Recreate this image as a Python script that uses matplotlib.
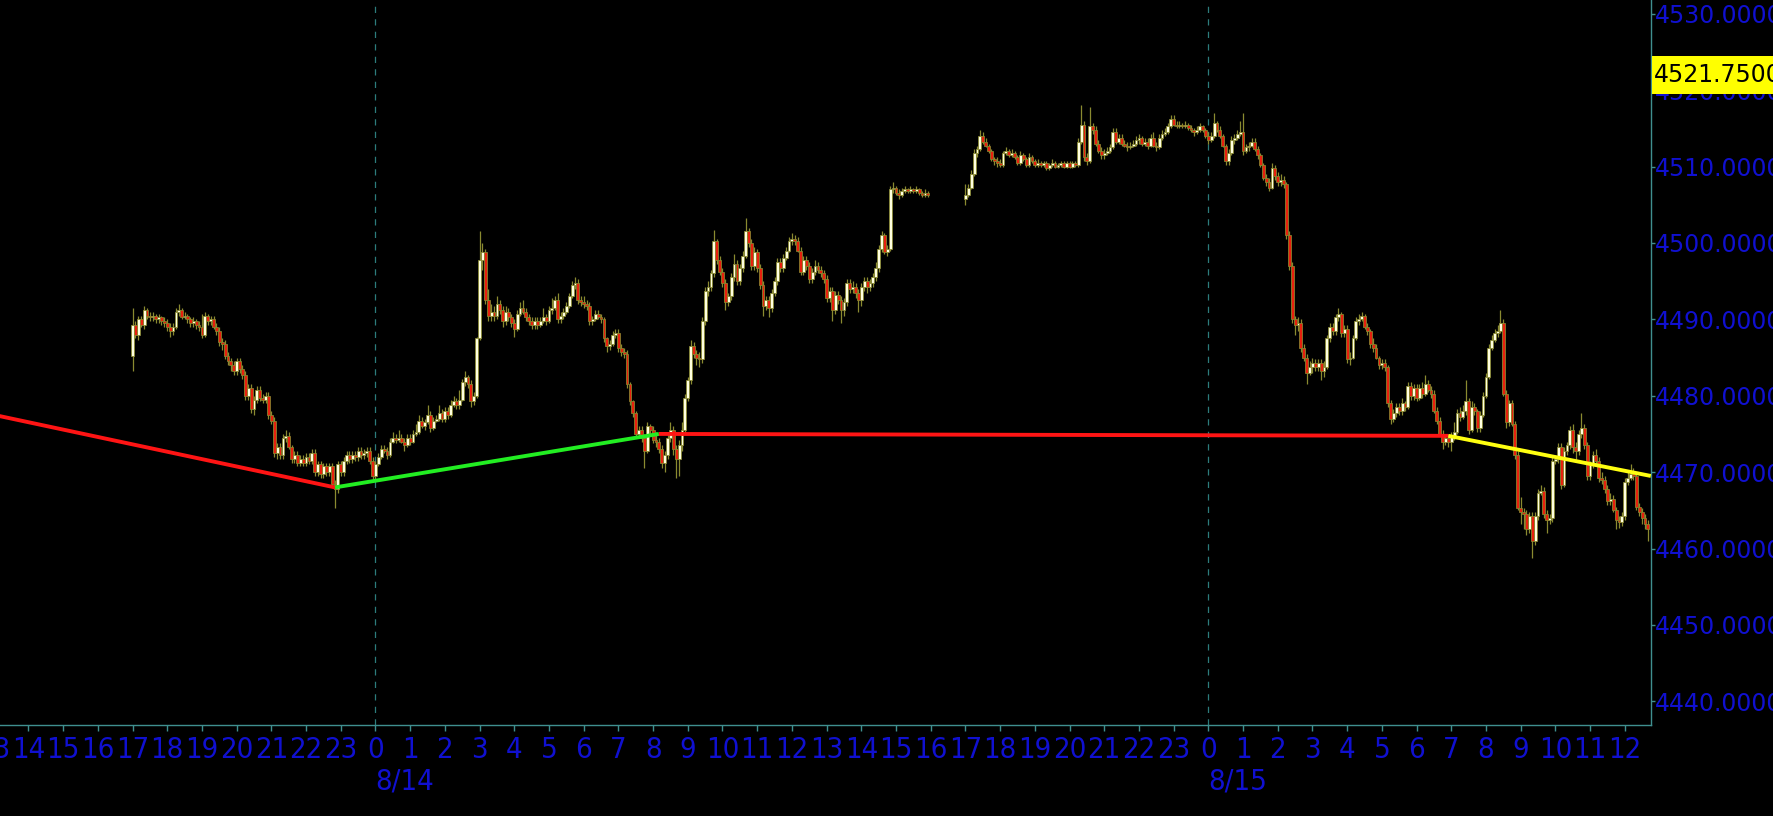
import numpy as np
import pandas as pd
import matplotlib
matplotlib.use("Agg")
import matplotlib.pyplot as plt
import matplotlib.dates as mdates
from matplotlib import font_manager
from matplotlib.patches import Rectangle
from matplotlib.transforms import blended_transform_factory

# 5-minute ES bars, two sessions (daily halt 16:00-17:00)
session1 = ("2023-08-13 17:00", "2023-08-14 15:55")
session2 = ("2023-08-14 17:00", "2023-08-15 12:40")

opens = [
    # 8/13 17h
    4485.25, 4489.25, 4488.0, 4490.0, 4489.25, 4491.25, 4490.5, 4490.25, 4490.5, 4490.0, 4490.25, 4489.75,
    4489.5, 4489.0, 4488.5, 4489.0, 4491.0, 4491.25, 4490.25, 4490.5, 4490.0, 4489.5, 4489.75, 4489.25,
    4489.0, 4488.0, 4490.5, 4489.75, 4490.0, 4489.0, 4488.5, 4487.0, 4486.75, 4485.25, 4484.5, 4484.0,
    4483.25, 4484.5, 4483.5, 4482.75, 4480.0, 4481.0, 4478.25, 4479.5, 4480.75, 4479.75, 4479.5, 4480.0,
    4477.5, 4476.75, 4472.5, 4473.25, 4472.25, 4474.5, 4474.75, 4473.25, 4471.75, 4472.25, 4471.25, 4471.75,
    4471.25, 4472.0, 4471.5, 4472.5, 4470.0, 4471.0, 4469.75, 4470.75, 4470.0, 4470.75, 4468.5, 4467.75,
    4471.0, 4470.0, 4471.5, 4472.25, 4471.75, 4472.25, 4472.0, 4472.75, 4472.25, 4472.5, 4472.75, 4471.5,
    # 8/14 0h
    4469.5, 4471.0, 4472.0, 4473.0, 4472.75, 4472.25, 4474.0, 4474.5, 4474.25, 4474.5, 4474.0, 4473.5,
    4474.5, 4474.0, 4475.0, 4475.25, 4476.75, 4476.0, 4476.5, 4477.5, 4475.75, 4476.75, 4477.0, 4477.75,
    4477.0, 4478.0, 4477.5, 4478.75, 4479.25, 4478.75, 4479.5, 4481.75, 4482.5, 4481.5, 4479.25, 4480.0,
    4487.5, 4497.75, 4498.75, 4492.5, 4490.5, 4491.0, 4490.5, 4492.0, 4491.25, 4489.75, 4491.0, 4490.25,
    4489.5, 4488.75, 4490.75, 4491.5, 4491.0, 4490.25, 4489.75, 4489.25, 4489.75, 4489.25, 4489.75, 4490.25,
    4489.75, 4491.25, 4491.5, 4492.5, 4490.0, 4490.5, 4491.0, 4491.75, 4493.0, 4494.5, 4494.75, 4492.5,
    4492.25, 4492.0, 4491.75, 4489.75, 4490.0, 4490.75, 4490.25, 4490.0, 4487.5, 4486.5, 4486.75, 4488.0,
    4488.25, 4486.25, 4485.75, 4485.5, 4481.5, 4479.25, 4477.75, 4475.0, 4475.5, 4474.5, 4472.75, 4476.0,
    4475.5, 4474.25, 4474.0, 4473.0, 4471.25, 4472.25, 4474.5, 4475.5, 4473.0, 4471.75, 4473.5, 4475.5,
    4479.75, 4482.0, 4486.5, 4485.5, 4485.0, 4484.75, 4489.75, 4493.75, 4494.25, 4496.0, 4500.25, 4497.75,
    4496.25, 4494.75, 4492.25, 4493.0, 4495.5, 4497.25, 4495.0, 4496.75, 4498.25, 4501.5, 4500.0, 4497.0,
    4498.75, 4496.75, 4494.5, 4491.75, 4492.5, 4491.5, 4493.5, 4495.0, 4497.5, 4496.75, 4498.0, 4499.0,
    4500.25, 4500.5, 4500.25, 4499.0, 4496.25, 4497.75, 4497.0, 4495.25, 4496.25, 4497.0, 4496.5, 4496.0,
    4495.25, 4492.75, 4493.75, 4491.25, 4493.25, 4492.5, 4491.25, 4492.25, 4494.75, 4494.0, 4494.25, 4493.5,
    4492.5, 4494.25, 4495.0, 4494.25, 4494.75, 4495.5, 4496.75, 4499.25, 4501.0, 4498.75, 4499.25, 4507.0,
    4507.25, 4506.5, 4506.25, 4506.75, 4507.0, 4506.75, 4507.0, 4506.75, 4507.0, 4506.5, 4506.25, 4506.5,
    # 8/14 17h
    4505.75, 4506.25, 4507.25, 4509.0, 4511.75, 4512.25, 4514.0, 4513.25, 4512.75, 4512.0, 4511.0, 4510.75,
    4510.5, 4510.25, 4511.75, 4512.0, 4511.5, 4511.75, 4511.25, 4510.5, 4511.5, 4511.0, 4510.25, 4511.25,
    4510.75, 4510.25, 4510.5, 4510.25, 4510.5, 4509.75, 4510.25, 4510.5, 4510.0, 4510.25, 4510.5, 4510.0,
    4510.5, 4510.0, 4510.5, 4510.25, 4513.25, 4515.5, 4511.25, 4510.75, 4515.25, 4514.75, 4513.0, 4512.0,
    4511.5, 4511.75, 4512.0, 4512.5, 4514.5, 4513.25, 4513.75, 4513.0, 4512.75, 4512.5, 4512.75, 4513.0,
    4513.5, 4513.75, 4513.0, 4513.25, 4512.75, 4513.75, 4512.75, 4512.5, 4513.75, 4514.25, 4514.5, 4515.25,
    4516.25, 4515.5, 4515.25, 4515.5, 4515.25, 4515.5, 4515.0, 4514.75, 4514.5, 4514.75, 4515.25, 4514.75,
    # 8/15 0h
    4514.0, 4513.5, 4514.0, 4515.75, 4514.75, 4514.0, 4512.75, 4510.75, 4511.75, 4513.5, 4513.75, 4514.25,
    4514.5, 4512.0, 4512.5, 4512.75, 4513.25, 4512.25, 4511.5, 4510.25, 4508.5, 4508.0, 4507.25, 4509.75,
    4508.75, 4508.0, 4508.25, 4507.75, 4501.0, 4497.0, 4490.0, 4489.25, 4489.5, 4486.25, 4485.0, 4483.0,
    4483.75, 4484.25, 4483.75, 4484.25, 4483.25, 4483.75, 4487.5, 4489.0, 4488.5, 4490.25, 4490.75, 4488.25,
    4488.75, 4484.75, 4485.0, 4487.5, 4489.75, 4490.0, 4490.5, 4489.0, 4488.5, 4486.75, 4486.25, 4485.0,
    4484.0, 4484.25, 4483.75, 4479.0, 4477.0, 4477.75, 4478.5, 4478.0, 4479.0, 4478.5, 4481.25, 4480.0,
    4481.0, 4479.75, 4481.0, 4480.25, 4481.5, 4480.75, 4480.25, 4478.0, 4476.75, 4475.0, 4474.0, 4474.5,
    4474.0, 4474.75, 4475.25, 4477.75, 4477.25, 4478.0, 4479.25, 4475.5, 4478.5, 4478.0, 4475.75, 4477.5,
    4480.0, 4482.5, 4486.25, 4487.25, 4488.25, 4488.5, 4489.5, 4480.25, 4476.5, 4479.0, 4476.25, 4472.25,
    4465.25, 4464.75, 4464.5, 4462.5, 4464.25, 4461.0, 4464.25, 4467.25, 4467.5, 4464.5, 4463.75, 4464.0,
    4471.5, 4471.75, 4473.25, 4468.25, 4472.75, 4473.5, 4475.5, 4473.25, 4472.75, 4475.0, 4475.75, 4473.5,
    4469.5, 4471.0, 4472.25, 4471.5, 4469.25, 4469.0, 4467.75, 4466.25, 4466.5, 4465.0, 4463.75, 4463.5,
    4464.25, 4468.75, 4469.25, 4469.75, 4469.5, 4465.5, 4464.75, 4464.0, 4463.25,
]

highs = [
    4491.5, 4489.75, 4490.5, 4490.5, 4491.75, 4491.5, 4491.0, 4491.0, 4490.75, 4490.75, 4490.5, 4490.25,
    4490.0, 4489.5, 4489.5, 4491.5, 4492.0, 4491.5, 4491.0, 4490.75, 4490.25, 4490.25, 4490.0, 4489.75,
    4490.75, 4491.0, 4490.75, 4490.5, 4490.5, 4489.5, 4489.0, 4487.5, 4487.25, 4485.75, 4485.0, 4484.5,
    4485.0, 4485.0, 4484.0, 4483.25, 4481.5, 4481.5, 4480.0, 4481.25, 4481.25, 4480.25, 4480.5, 4480.5,
    4478.0, 4477.25, 4473.75, 4473.75, 4475.0, 4475.5, 4475.25, 4473.5, 4472.75, 4472.75, 4472.25, 4472.25,
    4472.5, 4472.5, 4473.0, 4473.0, 4471.5, 4471.5, 4471.25, 4471.25, 4471.25, 4471.25, 4469.0, 4471.5,
    4471.5, 4472.0, 4472.75, 4472.75, 4472.75, 4472.75, 4473.25, 4473.25, 4473.0, 4473.25, 4473.25, 4472.0,
    4471.5, 4472.5, 4473.5, 4473.5, 4473.25, 4474.5, 4475.25, 4475.0, 4475.5, 4475.0, 4474.5, 4475.0,
    4475.0, 4475.5, 4476.25, 4477.5, 4477.25, 4477.0, 4478.75, 4478.0, 4477.25, 4477.5, 4478.75, 4478.25,
    4478.5, 4478.5, 4479.5, 4480.0, 4479.75, 4480.75, 4482.25, 4483.25, 4482.75, 4482.0, 4480.5, 4487.75,
    4501.5, 4500.0, 4499.25, 4494.0, 4492.0, 4491.75, 4493.0, 4492.5, 4491.75, 4491.75, 4491.5, 4490.75,
    4490.0, 4491.25, 4492.25, 4492.5, 4491.5, 4490.75, 4490.25, 4490.25, 4490.25, 4490.25, 4491.5, 4490.75,
    4491.75, 4492.75, 4493.0, 4493.5, 4491.0, 4491.5, 4492.25, 4493.5, 4495.0, 4495.5, 4495.25, 4493.0,
    4493.0, 4492.5, 4492.25, 4490.5, 4491.25, 4491.25, 4490.75, 4490.25, 4487.75, 4487.25, 4488.5, 4488.75,
    4488.75, 4486.75, 4486.25, 4486.0, 4481.75, 4479.5, 4478.0, 4476.0, 4476.0, 4475.0, 4476.5, 4476.25,
    4476.0, 4475.25, 4474.5, 4473.5, 4472.75, 4475.0, 4476.5, 4476.0, 4473.5, 4474.25, 4476.5, 4480.25,
    4482.5, 4487.25, 4487.0, 4486.0, 4485.75, 4490.25, 4494.25, 4495.0, 4496.5, 4501.75, 4500.5, 4498.25,
    4496.75, 4495.25, 4493.5, 4496.0, 4498.5, 4497.75, 4497.25, 4499.0, 4503.25, 4502.0, 4500.5, 4499.5,
    4499.25, 4497.25, 4495.0, 4493.0, 4493.0, 4494.0, 4495.5, 4498.0, 4498.0, 4498.5, 4499.5, 4500.75,
    4501.25, 4501.0, 4500.75, 4499.5, 4498.25, 4498.25, 4497.5, 4496.75, 4497.75, 4497.5, 4497.0, 4496.5,
    4495.75, 4494.25, 4494.25, 4493.75, 4493.75, 4493.0, 4492.75, 4495.25, 4495.25, 4495.0, 4494.75, 4494.0,
    4494.75, 4495.5, 4495.5, 4495.25, 4496.0, 4497.5, 4499.75, 4501.5, 4501.25, 4499.75, 4507.5, 4508.0,
    4507.5, 4507.0, 4507.25, 4507.5, 4507.25, 4507.5, 4507.25, 4507.5, 4507.25, 4506.75, 4507.0, 4506.75,
    4507.75, 4507.75, 4509.5, 4512.25, 4512.75, 4514.75, 4514.5, 4513.75, 4513.0, 4512.25, 4511.25, 4511.25,
    4511.0, 4512.0, 4512.5, 4512.25, 4512.25, 4512.0, 4511.5, 4512.0, 4511.75, 4511.25, 4511.75, 4511.5,
    4511.0, 4511.0, 4510.75, 4510.75, 4510.75, 4510.5, 4511.0, 4510.75, 4510.5, 4510.75, 4510.75, 4510.75,
    4510.75, 4510.75, 4510.75, 4513.75, 4518.0, 4516.0, 4511.75, 4517.75, 4515.75, 4515.25, 4513.5, 4512.5,
    4512.25, 4512.5, 4513.0, 4515.0, 4515.0, 4514.25, 4514.25, 4513.5, 4513.25, 4513.25, 4513.5, 4514.0,
    4514.25, 4514.0, 4513.75, 4513.75, 4514.25, 4514.5, 4513.25, 4514.25, 4514.75, 4515.0, 4515.75, 4516.75,
    4516.75, 4516.0, 4516.0, 4515.75, 4516.0, 4515.75, 4515.5, 4515.0, 4515.25, 4515.75, 4515.5, 4515.0,
    4514.5, 4514.5, 4517.0, 4516.0, 4515.25, 4514.25, 4513.0, 4512.25, 4514.0, 4514.25, 4514.75, 4516.0,
    4517.0, 4513.0, 4513.25, 4513.75, 4513.75, 4512.75, 4511.75, 4510.5, 4509.0, 4508.5, 4510.5, 4510.25,
    4509.25, 4509.0, 4508.75, 4508.0, 4501.5, 4497.5, 4490.5, 4490.25, 4490.0, 4486.75, 4485.5, 4484.5,
    4485.0, 4484.75, 4484.75, 4484.75, 4484.5, 4488.0, 4489.5, 4489.5, 4490.75, 4491.5, 4491.0, 4489.25,
    4489.25, 4485.75, 4488.0, 4490.25, 4490.75, 4491.0, 4490.75, 4489.5, 4488.75, 4487.5, 4486.75, 4485.25,
    4484.75, 4484.75, 4484.0, 4479.5, 4478.25, 4479.0, 4479.0, 4479.75, 4479.25, 4481.75, 4481.75, 4481.5,
    4481.5, 4481.5, 4481.75, 4482.75, 4482.0, 4481.25, 4480.75, 4478.5, 4477.25, 4475.5, 4475.0, 4475.0,
    4475.25, 4476.5, 4478.25, 4478.5, 4478.75, 4482.0, 4479.75, 4479.25, 4479.0, 4478.25, 4478.0, 4480.5,
    4483.0, 4486.75, 4488.0, 4488.75, 4489.25, 4491.25, 4490.0, 4480.75, 4479.5, 4479.5, 4476.75, 4472.75,
    4466.75, 4465.25, 4465.0, 4464.75, 4464.75, 4464.75, 4467.75, 4468.25, 4468.0, 4465.0, 4464.5, 4472.0,
    4472.25, 4473.75, 4473.75, 4473.25, 4474.0, 4476.0, 4476.25, 4474.0, 4475.5, 4477.75, 4476.25, 4474.0,
    4471.5, 4472.75, 4473.0, 4472.0, 4470.0, 4469.5, 4468.25, 4467.25, 4467.0, 4465.5, 4464.25, 4464.75,
    4469.25, 4470.0, 4471.0, 4470.5, 4470.0, 4466.0, 4465.25, 4464.5, 4463.75,
]

lows = [
    4483.25, 4487.5, 4487.25, 4489.0, 4488.75, 4490.0, 4489.75, 4489.75, 4489.5, 4489.5, 4489.25, 4489.0,
    4488.5, 4487.75, 4488.0, 4488.75, 4490.5, 4490.0, 4490.0, 4489.5, 4489.0, 4489.0, 4488.75, 4488.5,
    4487.5, 4487.75, 4489.25, 4489.25, 4488.75, 4488.0, 4486.5, 4486.0, 4484.75, 4484.0, 4483.25, 4482.75,
    4482.75, 4483.0, 4482.25, 4479.5, 4479.5, 4477.75, 4477.5, 4479.0, 4479.25, 4479.0, 4479.0, 4477.0,
    4476.25, 4472.0, 4471.75, 4471.75, 4471.75, 4474.0, 4473.0, 4471.25, 4471.25, 4470.75, 4470.75, 4470.75,
    4470.75, 4471.0, 4471.0, 4469.5, 4469.5, 4469.25, 4469.25, 4469.5, 4469.5, 4468.0, 4465.25, 4467.25,
    4469.5, 4469.5, 4471.0, 4471.25, 4471.25, 4471.5, 4471.5, 4471.75, 4471.75, 4472.0, 4471.0, 4469.0,
    4469.0, 4470.75, 4471.75, 4472.5, 4471.75, 4472.0, 4473.75, 4473.75, 4474.0, 4473.75, 4472.75, 4473.25,
    4473.5, 4473.75, 4474.75, 4475.0, 4475.75, 4475.5, 4476.25, 4475.25, 4475.5, 4476.5, 4476.75, 4476.5,
    4476.5, 4477.0, 4477.25, 4478.5, 4478.25, 4478.25, 4479.25, 4481.25, 4481.0, 4478.5, 4478.75, 4479.75,
    4487.25, 4496.5, 4492.0, 4489.75, 4489.75, 4489.75, 4490.0, 4490.75, 4489.0, 4489.25, 4489.75, 4489.0,
    4487.75, 4488.5, 4490.5, 4490.75, 4489.75, 4489.25, 4488.75, 4488.75, 4488.75, 4489.0, 4489.5, 4489.25,
    4489.5, 4490.75, 4491.25, 4489.5, 4489.5, 4490.0, 4490.75, 4491.5, 4492.75, 4494.0, 4492.0, 4491.75,
    4491.5, 4491.25, 4489.25, 4489.25, 4489.75, 4490.0, 4489.5, 4487.0, 4485.75, 4486.0, 4486.5, 4487.5,
    4485.75, 4485.25, 4485.0, 4481.0, 4478.75, 4477.25, 4474.5, 4474.5, 4474.0, 4470.5, 4472.5, 4475.0,
    4473.75, 4473.25, 4472.5, 4470.5, 4470.0, 4471.75, 4474.0, 4472.25, 4469.25, 4469.5, 4472.75, 4475.0,
    4479.25, 4481.5, 4485.0, 4484.0, 4483.75, 4484.25, 4489.25, 4493.0, 4493.75, 4495.5, 4497.25, 4495.75,
    4494.25, 4491.25, 4491.75, 4492.5, 4495.0, 4494.5, 4494.5, 4496.25, 4498.0, 4499.5, 4496.5, 4496.5,
    4496.25, 4494.0, 4490.5, 4491.25, 4490.25, 4491.0, 4493.0, 4494.5, 4496.25, 4496.25, 4497.75, 4498.75,
    4499.75, 4499.75, 4498.75, 4495.75, 4495.75, 4496.5, 4494.75, 4494.75, 4495.75, 4496.0, 4495.5, 4494.75,
    4492.25, 4492.25, 4489.75, 4490.75, 4492.0, 4489.5, 4490.5, 4491.75, 4493.5, 4493.5, 4492.75, 4491.0,
    4491.75, 4493.75, 4493.5, 4493.75, 4494.25, 4495.0, 4496.25, 4498.75, 4498.5, 4498.25, 4499.0, 4506.5,
    4506.25, 4505.75, 4506.0, 4506.5, 4506.5, 4506.5, 4506.5, 4506.5, 4506.25, 4506.0, 4506.0, 4506.0,
    4505.0, 4506.0, 4507.0, 4508.75, 4511.25, 4512.0, 4513.0, 4512.5, 4511.75, 4510.75, 4510.25, 4510.0,
    4510.0, 4510.0, 4511.5, 4511.25, 4511.25, 4511.0, 4510.25, 4510.25, 4510.75, 4510.0, 4510.0, 4510.5,
    4510.0, 4510.0, 4510.0, 4510.0, 4509.5, 4509.5, 4510.0, 4509.75, 4509.75, 4510.0, 4509.75, 4509.75,
    4509.75, 4509.75, 4510.0, 4510.0, 4513.0, 4510.75, 4510.25, 4510.5, 4514.25, 4512.75, 4511.75, 4511.0,
    4511.0, 4511.5, 4511.75, 4512.25, 4513.0, 4513.0, 4512.75, 4512.5, 4512.0, 4512.25, 4512.5, 4512.75,
    4513.0, 4512.75, 4512.75, 4512.25, 4512.5, 4512.5, 4512.0, 4512.25, 4513.5, 4514.0, 4514.25, 4515.0,
    4515.25, 4515.0, 4515.0, 4515.0, 4515.0, 4514.75, 4514.5, 4514.0, 4514.25, 4514.5, 4514.5, 4513.75,
    4513.0, 4513.25, 4513.75, 4514.5, 4513.75, 4512.5, 4510.25, 4510.25, 4511.5, 4513.0, 4513.5, 4514.0,
    4511.5, 4511.75, 4512.0, 4512.5, 4512.0, 4511.0, 4510.0, 4508.25, 4507.5, 4506.75, 4507.0, 4508.25,
    4507.5, 4507.5, 4507.25, 4500.5, 4496.5, 4489.5, 4488.0, 4488.5, 4485.75, 4484.5, 4481.5, 4482.75,
    4483.0, 4483.25, 4483.25, 4482.0, 4482.5, 4483.5, 4487.0, 4488.0, 4488.0, 4489.75, 4487.75, 4487.75,
    4484.25, 4484.0, 4484.75, 4487.25, 4489.25, 4489.75, 4488.75, 4488.0, 4486.25, 4485.75, 4484.75, 4483.5,
    4483.5, 4483.25, 4478.5, 4476.25, 4476.5, 4477.25, 4477.5, 4477.5, 4478.0, 4478.25, 4479.5, 4479.5,
    4479.25, 4479.5, 4479.75, 4480.0, 4480.5, 4479.75, 4477.75, 4476.25, 4474.75, 4473.0, 4473.5, 4473.25,
    4472.75, 4474.25, 4475.0, 4476.75, 4477.0, 4477.5, 4475.0, 4475.25, 4477.5, 4475.25, 4475.25, 4477.25,
    4479.75, 4482.25, 4486.0, 4487.0, 4487.75, 4488.25, 4480.0, 4475.75, 4476.0, 4476.0, 4471.75, 4465.0,
    4463.25, 4462.5, 4461.75, 4462.0, 4458.75, 4460.5, 4463.75, 4467.0, 4464.0, 4462.0, 4463.25, 4463.5,
    4471.0, 4471.25, 4467.75, 4468.0, 4472.25, 4473.0, 4472.5, 4471.5, 4472.25, 4474.5, 4473.0, 4469.0,
    4469.0, 4470.5, 4471.0, 4468.75, 4468.5, 4467.25, 4465.75, 4465.75, 4464.75, 4462.5, 4462.75, 4463.0,
    4463.75, 4468.25, 4469.0, 4469.0, 4465.0, 4464.25, 4463.25, 4462.5, 4461.0,
]

closes = [
    4489.25, 4488.0, 4490.0, 4489.25, 4491.25, 4490.5, 4490.25, 4490.5, 4490.0, 4490.25, 4489.75, 4489.5,
    4489.0, 4488.5, 4489.0, 4491.0, 4491.25, 4490.25, 4490.5, 4490.0, 4489.5, 4489.75, 4489.25, 4489.0,
    4488.0, 4490.5, 4489.75, 4490.0, 4489.0, 4488.5, 4487.0, 4486.75, 4485.25, 4484.5, 4484.0, 4483.25,
    4484.5, 4483.5, 4482.75, 4480.0, 4481.0, 4478.25, 4479.5, 4480.75, 4479.75, 4479.5, 4480.0, 4477.5,
    4476.75, 4472.5, 4473.25, 4472.25, 4474.5, 4474.75, 4473.25, 4471.75, 4472.25, 4471.25, 4471.75, 4471.25,
    4472.0, 4471.5, 4472.5, 4470.0, 4471.0, 4469.75, 4470.75, 4470.0, 4470.75, 4468.5, 4467.75, 4471.0,
    4470.0, 4471.5, 4472.25, 4471.75, 4472.25, 4472.0, 4472.75, 4472.25, 4472.5, 4472.75, 4471.5, 4469.5,
    4471.0, 4472.0, 4473.0, 4472.75, 4472.25, 4474.0, 4474.5, 4474.25, 4474.5, 4474.0, 4473.5, 4474.5,
    4474.0, 4475.0, 4475.25, 4476.75, 4476.0, 4476.5, 4477.5, 4475.75, 4476.75, 4477.0, 4477.75, 4477.0,
    4478.0, 4477.5, 4478.75, 4479.25, 4478.75, 4479.5, 4481.75, 4482.5, 4481.5, 4479.25, 4480.0, 4487.5,
    4497.75, 4498.75, 4492.5, 4490.5, 4491.0, 4490.5, 4492.0, 4491.25, 4489.75, 4491.0, 4490.25, 4489.5,
    4488.75, 4490.75, 4491.5, 4491.0, 4490.25, 4489.75, 4489.25, 4489.75, 4489.25, 4489.75, 4490.25, 4489.75,
    4491.25, 4491.5, 4492.5, 4490.0, 4490.5, 4491.0, 4491.75, 4493.0, 4494.5, 4494.75, 4492.5, 4492.25,
    4492.0, 4491.75, 4489.75, 4490.0, 4490.75, 4490.25, 4490.0, 4487.5, 4486.5, 4486.75, 4488.0, 4488.25,
    4486.25, 4485.75, 4485.5, 4481.5, 4479.25, 4477.75, 4475.0, 4475.5, 4474.5, 4472.75, 4476.0, 4475.5,
    4474.25, 4474.0, 4473.0, 4471.25, 4472.25, 4474.5, 4475.5, 4473.0, 4471.75, 4473.5, 4475.5, 4479.75,
    4482.0, 4486.5, 4485.5, 4485.0, 4484.75, 4489.75, 4493.75, 4494.25, 4496.0, 4500.25, 4497.75, 4496.25,
    4494.75, 4492.25, 4493.0, 4495.5, 4497.25, 4495.0, 4496.75, 4498.25, 4501.5, 4500.0, 4497.0, 4498.75,
    4496.75, 4494.5, 4491.75, 4492.5, 4491.5, 4493.5, 4495.0, 4497.5, 4496.75, 4498.0, 4499.0, 4500.25,
    4500.5, 4500.25, 4499.0, 4496.25, 4497.75, 4497.0, 4495.25, 4496.25, 4497.0, 4496.5, 4496.0, 4495.25,
    4492.75, 4493.75, 4491.25, 4493.25, 4492.5, 4491.25, 4492.25, 4494.75, 4494.0, 4494.25, 4493.5, 4492.5,
    4494.25, 4495.0, 4494.25, 4494.75, 4495.5, 4496.75, 4499.25, 4501.0, 4498.75, 4499.25, 4507.0, 4507.25,
    4506.5, 4506.25, 4506.75, 4507.0, 4506.75, 4507.0, 4506.75, 4507.0, 4506.5, 4506.25, 4506.5, 4506.25,
    4506.25, 4507.25, 4509.0, 4511.75, 4512.25, 4514.0, 4513.25, 4512.75, 4512.0, 4511.0, 4510.75, 4510.5,
    4510.25, 4511.75, 4512.0, 4511.5, 4511.75, 4511.25, 4510.5, 4511.5, 4511.0, 4510.25, 4511.25, 4510.75,
    4510.25, 4510.5, 4510.25, 4510.5, 4509.75, 4510.25, 4510.5, 4510.0, 4510.25, 4510.5, 4510.0, 4510.5,
    4510.0, 4510.5, 4510.25, 4513.25, 4515.5, 4511.25, 4510.75, 4515.25, 4514.75, 4513.0, 4512.0, 4511.5,
    4511.75, 4512.0, 4512.5, 4514.5, 4513.25, 4513.75, 4513.0, 4512.75, 4512.5, 4512.75, 4513.0, 4513.5,
    4513.75, 4513.0, 4513.25, 4512.75, 4513.75, 4512.75, 4512.5, 4513.75, 4514.25, 4514.5, 4515.25, 4516.25,
    4515.5, 4515.25, 4515.5, 4515.25, 4515.5, 4515.0, 4514.75, 4514.5, 4514.75, 4515.25, 4514.75, 4514.0,
    4513.5, 4514.0, 4515.75, 4514.75, 4514.0, 4512.75, 4510.75, 4511.75, 4513.5, 4513.75, 4514.25, 4514.5,
    4512.0, 4512.5, 4512.75, 4513.25, 4512.25, 4511.5, 4510.25, 4508.5, 4508.0, 4507.25, 4509.75, 4508.75,
    4508.0, 4508.25, 4507.75, 4501.0, 4497.0, 4490.0, 4489.25, 4489.5, 4486.25, 4485.0, 4483.0, 4483.75,
    4484.25, 4483.75, 4484.25, 4483.25, 4483.75, 4487.5, 4489.0, 4488.5, 4490.25, 4490.75, 4488.25, 4488.75,
    4484.75, 4485.0, 4487.5, 4489.75, 4490.0, 4490.5, 4489.0, 4488.5, 4486.75, 4486.25, 4485.0, 4484.0,
    4484.25, 4483.75, 4479.0, 4477.0, 4477.75, 4478.5, 4478.0, 4479.0, 4478.5, 4481.25, 4480.0, 4481.0,
    4479.75, 4481.0, 4480.25, 4481.5, 4480.75, 4480.25, 4478.0, 4476.75, 4475.0, 4474.0, 4474.5, 4474.0,
    4474.75, 4475.25, 4477.75, 4477.25, 4478.0, 4479.25, 4475.5, 4478.5, 4478.0, 4475.75, 4477.5, 4480.0,
    4482.5, 4486.25, 4487.25, 4488.25, 4488.5, 4489.5, 4480.25, 4476.5, 4479.0, 4476.25, 4472.25, 4465.25,
    4464.75, 4464.5, 4462.5, 4464.25, 4461.0, 4464.25, 4467.25, 4467.5, 4464.5, 4463.75, 4464.0, 4471.5,
    4471.75, 4473.25, 4468.25, 4472.75, 4473.5, 4475.5, 4473.25, 4472.75, 4475.0, 4475.75, 4473.5, 4469.5,
    4471.0, 4472.25, 4471.5, 4469.25, 4469.0, 4467.75, 4466.25, 4466.5, 4465.0, 4463.75, 4463.5, 4464.25,
    4468.75, 4469.25, 4469.75, 4469.5, 4465.5, 4464.75, 4464.0, 4463.25, 4462.5,
]

# swing line (zigzag) vertices and segment colours
swing_times = ["2023-08-13 13:00", "2023-08-13 22:50", "2023-08-14 08:10",
               "2023-08-15 06:55", "2023-08-15 12:45"]
swing_prices = [4477.5, 4468.0, 4475.0, 4474.75, 4469.5]
swing_colors = ["#ff1414", "#22ee22", "#ff1414", "#ffff10"]

last_price = 4521.75
price_ticks = [4440, 4450, 4460, 4470, 4480, 4490, 4500, 4510, 4520, 4530]

BG = "black"
AXIS = "#3f8f8f"
BLUE = "#1010d0"
WICK = "#8a8a30"
UP = "#ffffe0"
DOWN = "#e8200e"

plt.rcParams["font.family"] = "DejaVu Sans"


def narrow_font_file():
    # look for a condensed sans face for the time axis labels
    prefs = ["liberationsansnarrow-regular", "dejavusanscondensed.", "condensed-regular",
             "narrow-regular", "condensed", "narrow"]
    files = [f.fname for f in font_manager.fontManager.ttflist]
    for p in prefs:
        for fn in files:
            base = fn.lower().replace(" ", "").rsplit("/", 1)[-1]
            if p in base and "bold" not in base and "italic" not in base and "oblique" not in base:
                return fn
    return None


times = pd.date_range(*session1, freq="5min").append(pd.date_range(*session2, freq="5min"))
x = mdates.date2num(times.to_numpy())
o, h, l, c = (np.array(v) for v in (opens, highs, lows, closes))
assert len(o) == len(h) == len(l) == len(c) == len(x)

fig = plt.figure(figsize=(17.74, 8.16), dpi=100, facecolor=BG)
ax = fig.add_axes([0, 91 / 816, 1651 / 1774, 725 / 816])
ax.set_facecolor(BG)

# day separators
for d in ["2023-08-14", "2023-08-15"]:
    ax.axvline(mdates.date2num(pd.Timestamp(d)), color="#2c7c7c", lw=0.9, ls=(0, (5, 5)), zorder=1)

# candles
bar_w = 4.9 / 1440
ax.vlines(x, l, h, color=WICK, lw=0.9, zorder=2)
up = c >= o
bottom = np.minimum(o, c)
height = np.maximum(np.abs(c - o), 0.15)
ax.bar(x[up], height[up], bottom=bottom[up], width=bar_w, color=UP,
       edgecolor=WICK, linewidth=0.55, zorder=3)
ax.bar(x[~up], height[~up], bottom=bottom[~up], width=bar_w, color=DOWN,
       edgecolor=WICK, linewidth=0.55, zorder=3)

# swing lines
sx = mdates.date2num(pd.to_datetime(swing_times).to_numpy())
for i, col in enumerate(swing_colors):
    ax.plot(sx[i:i + 2], swing_prices[i:i + 2], color=col, lw=2.8, zorder=4,
            solid_capstyle="butt")

x_left = mdates.date2num(pd.Timestamp("2023-08-13 13:10:50"))
x_right = mdates.date2num(pd.Timestamp("2023-08-15 12:45:20"))
ax.set_xlim(x_left, x_right)
ax.set_ylim(4436.9, 4531.8)

# axes styling
for side in ["left", "top"]:
    ax.spines[side].set_visible(False)
for side in ["right", "bottom"]:
    ax.spines[side].set_color(AXIS)
    ax.spines[side].set_linewidth(1.0)

ax.yaxis.tick_right()
ax.set_yticks(price_ticks)
ax.set_yticklabels([f"{p:.4f}" for p in price_ticks])
ax.tick_params(axis="y", colors=AXIS, labelcolor=BLUE, length=3, width=1,
               pad=0, labelsize=17)

hour_marks = pd.date_range("2023-08-13 13:00", "2023-08-15 12:00", freq="h")
hx = mdates.date2num(hour_marks.to_numpy())
ax.set_xticks(hx[1:])
ax.tick_params(axis="x", colors=AXIS, length=4, width=1, labelbottom=False)

nf = narrow_font_file()
if nf:
    tprops = font_manager.FontProperties(fname=nf, size=21)
else:
    tprops = font_manager.FontProperties(family="Liberation Sans", size=16)

xtr = blended_transform_factory(ax.transData, ax.transAxes)
for t, xv in zip(hour_marks, hx):
    ax.text(xv, -0.034, str(t.hour), transform=xtr, ha="center", va="center",
            color=BLUE, fontproperties=tprops, clip_on=False)
for d in pd.to_datetime(["2023-08-14", "2023-08-15"]):
    ax.text(mdates.date2num(d), -0.078, f"{d.month}/{d.day}", transform=xtr,
            ha="left", va="center", color=BLUE, fontproperties=tprops)

# last price marker
ytr = blended_transform_factory(fig.transFigure, ax.transData)
fig.add_artist(Rectangle((1652 / 1774, last_price - 2.25), 0.2, 4.95,
                         transform=ytr, facecolor="#ffff00", edgecolor="none", zorder=5))
fig.text(1654 / 1774, last_price + 0.2, f"{last_price:.4f}", transform=ytr,
         ha="left", va="center", color="black", fontsize=17, zorder=6)

fig.savefig("out.png", dpi=100, facecolor=BG)
